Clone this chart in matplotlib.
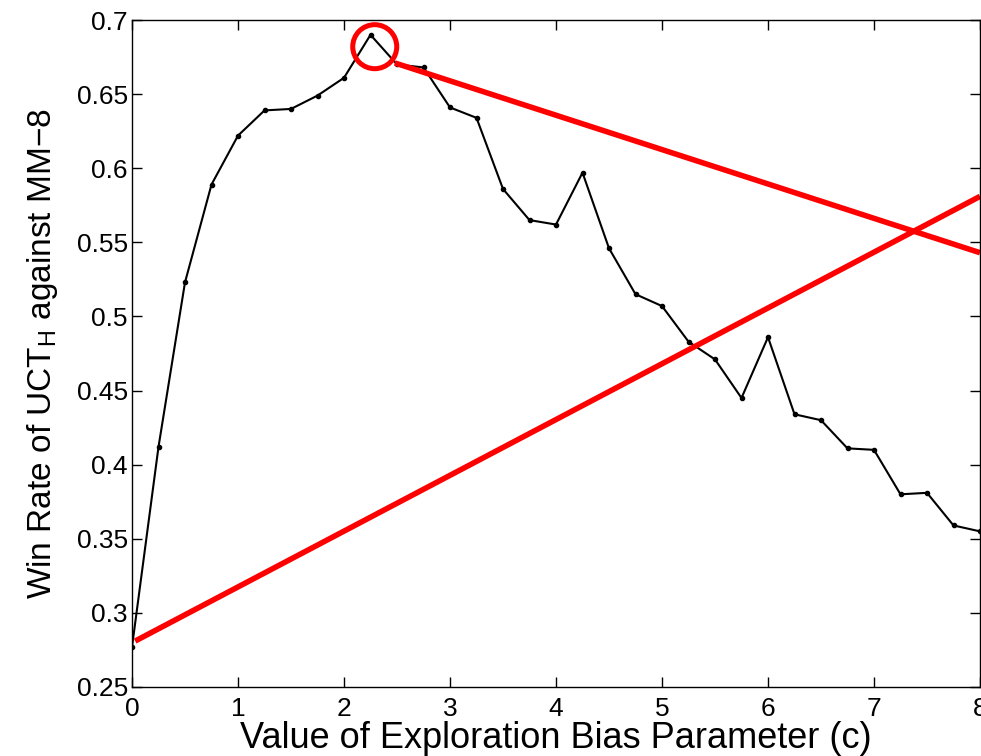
import numpy as np
import matplotlib
matplotlib.use("Agg")
import matplotlib.pyplot as plt
from matplotlib.patches import Ellipse

plt.rcParams["font.family"] = ["Liberation Sans", "DejaVu Sans"]
plt.rcParams["mathtext.fontset"] = "custom"
plt.rcParams["mathtext.rm"] = "Liberation Sans"

# ── data ──────────────────────────────────────────────────────────────────────
c_values = np.arange(0, 8.01, 0.25)
win_rate = [0.277, 0.412, 0.523, 0.589, 0.622, 0.639, 0.640, 0.649, 0.661,
            0.690, 0.670, 0.668, 0.641, 0.634, 0.586, 0.565, 0.562, 0.597,
            0.546, 0.515, 0.507, 0.483, 0.471, 0.445, 0.486, 0.434, 0.430,
            0.411, 0.410, 0.380, 0.381, 0.359, 0.355]

# red annotation lines (start/end in data coords)
line_down_x = [2.48, 8.0]
line_down_y = [0.671, 0.543]
line_up_x = [0.03, 8.0]
line_up_y = [0.281, 0.581]
peak_c, peak_w = 2.29, 0.682

xticks = list(range(0, 9))
yticks = [0.25, 0.3, 0.35, 0.4, 0.45, 0.5, 0.55, 0.6, 0.65, 0.7]

# ── figure ────────────────────────────────────────────────────────────────────
fig = plt.figure(figsize=(9.81, 7.56), dpi=100)
ax = fig.add_axes([132 / 981, 1 - 687 / 756, 848 / 981, 667 / 756])

ax.plot(c_values, win_rate, color="black", lw=1.5, marker="o", ms=3)
ax.plot(line_down_x, line_down_y, color="#ff0000", lw=4, solid_capstyle="butt")
ax.plot(line_up_x, line_up_y, color="#ff0000", lw=4, solid_capstyle="butt")

# circle radius ~22 px, converted to data units
rx = 22 / 106.0
ry = 22 / 1482.0
ax.add_patch(Ellipse((peak_c, peak_w), 2 * rx, 2 * ry, fill=False,
                     edgecolor="#ff0000", lw=3.6, zorder=5))

ax.set_xlim(0, 8)
ax.set_ylim(0.25, 0.7)
ax.set_xticks(xticks)
ax.set_yticks(yticks)
ax.set_yticklabels([f"{v:g}" for v in yticks])
ax.tick_params(direction="in", length=7, width=1, top=True, right=True,
               labelsize=19)
ax.tick_params(axis="x", pad=7)
ax.tick_params(axis="y", pad=3)
for s in ax.spines.values():
    s.set_linewidth(1)

ax.set_xlabel("Value of Exploration Bias Parameter (c)", fontsize=26, labelpad=0)
ax.set_ylabel(r"Win Rate of UCT$_\mathregular{H}$ against MM$-$8", fontsize=24,
              labelpad=12)

fig.savefig("out.png", dpi=100)
